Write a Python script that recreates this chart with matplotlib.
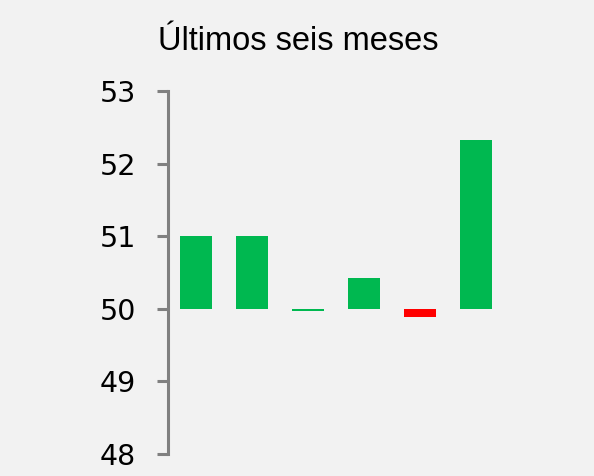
import matplotlib
matplotlib.use("Agg")
import matplotlib.pyplot as plt

TITLE = "Últimos seis meses"
BASELINE = 50.0
values = [51.0, 51.0, 49.97, 50.42, 49.88, 52.32]
bar_colors = ["#00B850", "#00B850", "#00B850", "#00B850", "#FF0000", "#00B850"]
y_ticks = [48, 49, 50, 51, 52, 53]

BG = "#F2F2F2"

fig = plt.figure(figsize=(5.94, 4.76), dpi=100, facecolor=BG)
ax = fig.add_axes([168 / 594, 1 - 453.7 / 476, 336 / 594, 362.7 / 476])
ax.set_facecolor(BG)

x = range(len(values))
heights = [v - BASELINE for v in values]
ax.bar(x, heights, bottom=BASELINE, width=0.57, color=bar_colors, linewidth=0)

ax.set_xlim(-0.5, len(values) - 0.5)
ax.set_ylim(y_ticks[0], y_ticks[-1])
ax.set_yticks(y_ticks)
ax.set_xticks([])

for side in ["top", "right", "bottom"]:
    ax.spines[side].set_visible(False)
ax.spines["left"].set_color("#808080")
ax.spines["left"].set_linewidth(2.2)
ax.tick_params(axis="y", direction="out", length=8, width=2.2, color="#808080",
               labelsize=20.5, pad=15, labelcolor="black")
for lbl in ax.get_yticklabels():
    lbl.set_family(["DejaVu Sans"])

fig.text(298 / 594, 1 - 42 / 476, TITLE, ha="center", va="center",
         fontsize=23.5, family=["Liberation Sans", "DejaVu Sans"], color="black")

fig.savefig("out.png", dpi=100, facecolor=BG)
